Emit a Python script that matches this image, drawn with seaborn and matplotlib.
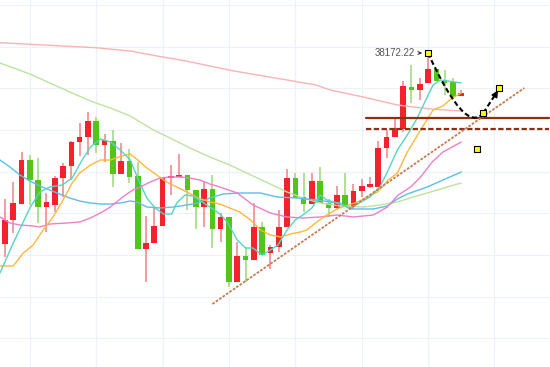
import numpy as np
import pandas as pd
import matplotlib
matplotlib.use("Agg")
import matplotlib.pyplot as plt
import seaborn as sns
from matplotlib.path import Path
from matplotlib.patches import PathPatch

# ---------------- data ----------------
open_ = [36262, 36502, 36662, 37102, 36902, 36632, 36652, 36922, 37042, 37282,
         37332, 37492, 37252, 37292, 36962, 37092, 36942, 36212, 36272, 36442,
         36922, 36932, 36952, 36802, 36632, 36812, 36412, 36532, 35882, 36142,
         36102, 36432, 36172, 36232, 36432, 36922, 36732, 36662, 36892, 36672,
         36622, 36752, 36642, 36792, 36832, 36832, 37222, 37332, 37412, 37832,
         37802, 37872, 38012, 37902, 37882, 37742]
high = [36712, 36882, 37182, 37152, 37122, 36772, 36942, 37072, 37292, 37472,
        37582, 37532, 37362, 37402, 37272, 37212, 37082, 36542, 36642, 36922,
        37052, 37162, 36952, 36802, 36882, 36952, 36572, 36532, 36282, 36232,
        36672, 36482, 36252, 36602, 37012, 36972, 36972, 36972, 37032, 36712,
        36842, 36972, 36862, 36912, 36932, 37292, 37402, 37522, 37892, 38052,
        37922, 38172, 38012, 38002, 37922, 37802]
low = [36132, 36372, 36662, 36652, 36472, 36382, 36582, 36732, 36902, 37142,
       37152, 37172, 37082, 36832, 36962, 36872, 36212, 35882, 36272, 36442,
       36752, 36932, 36602, 36412, 36432, 36222, 36282, 35832, 35882, 35882,
       36102, 36152, 36012, 36182, 36432, 36722, 36582, 36662, 36672, 36532,
       36602, 36642, 36612, 36732, 36822, 36832, 37122, 37332, 37382, 37672,
       37702, 37872, 37902, 37752, 37732, 37742]
close = [36502, 36672, 37102, 36902, 36632, 36682, 36922, 37042, 37282, 37332,
         37492, 37252, 37302, 36962, 37092, 36932, 36212, 36272, 36442, 36922,
         36942, 36952, 36802, 36632, 36812, 36412, 36532, 35882, 36142, 36102,
         36432, 36152, 36232, 36432, 36922, 36722, 36662, 36892, 36672, 36622,
         36752, 36642, 36792, 36842, 36862, 37222, 37332, 37422, 37842, 37802,
         37862, 38012, 37892, 37872, 37732, 37772]

ma5_x = [-0.6, 1, 3, 4.2, 5.4, 6.9, 8.1, 9.3, 10.3, 11.5, 12.7, 13.9, 15.1, 16, 17.1,
         18.1, 19.1, 20.1, 20.7, 21.7, 22.7, 23.8, 24.7, 25.9, 26.8, 28, 29, 29.9,
         31, 32, 32.9, 34, 35, 35.9, 37, 38, 38.8, 40, 41.6, 44, 45.2, 46.2, 47.3,
         48.5, 49.7, 50.9, 51.6, 52.5, 53.4, 55]
ma5_y = [35972, 36272, 36622, 36782, 36832, 36852, 36922, 37102, 37232, 37312, 37282,
         37202, 37102, 36922, 36722, 36622, 36562, 36562, 36672, 36752, 36742, 36682,
         36632, 36562, 36482, 36302, 36222, 36222, 36152, 36202, 36252, 36402, 36502,
         36552, 36622, 36752, 36702, 36672, 36622, 36732, 36832, 37002, 37202, 37352,
         37522, 37732, 37852, 37902, 37892, 37872]

ma10_x = [-0.6, 1, 2.2, 3.4, 4.6, 5.8, 7, 8.1, 9, 10.3, 11.5, 12.7, 14.1, 15.1, 16,
          17.1, 18.3, 19.5, 20.7, 21.95, 23.3, 24.7, 25.9, 27.1, 28.3, 29.6, 30.8, 32,
          33.2, 34.4, 35.6, 36.4, 37.6, 38.8, 40, 42.5, 44.9, 46.2, 47.3, 48.5, 50.1,
          51.6, 52.8, 53.9, 55]
ma10_y = [36042, 36042, 36172, 36252, 36402, 36532, 36702, 36872, 36972, 37052, 37102,
          37102, 37142, 37162, 37102, 37022, 36952, 36882, 36832, 36782, 36722, 36682,
          36662, 36622, 36582, 36502, 36402, 36352, 36332, 36362, 36382, 36402, 36482,
          36552, 36612, 36682, 36782, 36902, 36972, 37182, 37402, 37602, 37642, 37722,
          37772]

ma20_x = [-0.6, 0.6, 1.8, 3.4, 4.2, 5.4, 7.5, 9, 10.3, 11.5, 12.7, 14.2, 15.4, 16.3,
          17.5, 18.7, 19.9, 21.1, 22.3, 23.5, 24.7, 25.9, 28, 29.9, 32, 34, 35.9, 38,
          40, 42, 44.4, 46.1, 47.4, 48.9, 50.1, 51.5, 52.8, 55]
ma20_y = [36532, 36472, 36452, 36442, 36432, 36462, 36472, 36482, 36522, 36572, 36632,
          36732, 36802, 36832, 36882, 36922, 36932, 36932, 36922, 36902, 36862, 36832,
          36772, 36652, 36572, 36532, 36522, 36532, 36552, 36532, 36552, 36632, 36752,
          36832, 36932, 37082, 37182, 37282]

ma30_x = [-0.6, 0.6, 1.8, 3, 4.2, 5.4, 6.6, 7.8, 9, 10.3, 11.5, 12.7, 13.9, 15.1, 15.9,
          17.1, 18.7, 20.3, 21.95, 23.2, 24.7, 26.3, 28.3, 30.8, 32.8, 35.2, 37.6, 39.2,
          40.4, 41.6, 44.4, 46.1, 47.3, 48.5, 50.9, 52.8, 55]
ma30_y = [37102, 37032, 36952, 36892, 36842, 36802, 36762, 36722, 36692, 36672, 36662,
          36662, 36672, 36692, 36682, 36632, 36622, 36632, 36652, 36672, 36722, 36762,
          36772, 36772, 36732, 36722, 36702, 36682, 36672, 36612, 36612, 36642, 36712,
          36762, 36832, 36902, 36982]

ma60_x = [-0.6, 3, 6.2, 10.3, 12.7, 15.1, 17.9, 19.9, 22.3, 24.7, 27.1, 29.9, 34, 35.9,
          38, 40.4, 43.2, 45.2, 47.3, 49.2, 51.3, 53.3, 55]
ma60_y = [38072, 37962, 37842, 37692, 37622, 37542, 37402, 37322, 37222, 37132, 37052,
          36942, 36782, 36722, 36672, 36642, 36632, 36652, 36682, 36732, 36782, 36832,
          36872]

ma120_x = [-0.6, 10.9, 15.1, 18.8, 21.4, 27.4, 33.3, 37.5, 39.2, 43.2, 47.3, 51.3, 55]
ma120_y = [38275, 38225, 38192, 38135, 38099, 37995, 37912, 37852, 37802, 37732, 37652,
           37612, 37592]

peak_label = "38172.22"
peak_value = 38172
resistance = 37522
support = 37412
trend_x = [25, 62.6]
trend_y = [35662, 37822]
marker_x = [51, 57.66, 59.6, 56.94]
marker_y = [38172, 37572, 37822, 37212]

# ---------------- figure ----------------
sns.set_theme(style="white")
plt.rcParams['font.family'] = ['Liberation Sans', 'DejaVu Sans']

fig = plt.figure(figsize=(5.5, 3.67), dpi=100)
ax = fig.add_axes([0, 0, 1, 1])

UP = "#f5222d"; UP_W = "#f47f88"
DN = "#52c41a"; DN_W = "#98d977"

o = np.array(open_); h = np.array(high); l = np.array(low); c = np.array(close)
x = np.arange(len(o))
up = c >= o
ax.vlines(x, l, h, colors=np.where(up, UP_W, DN_W), lw=1.1, zorder=2)
bottoms = np.minimum(o, c)
heights = np.maximum(np.abs(c - o), 12)
ax.bar(x, heights, bottom=bottoms, width=0.68, color=np.where(up, UP, DN),
       linewidth=0, zorder=3)

lines = [
    (ma120_x, ma120_y, "#f7b4b4"),
    (ma60_x, ma60_y, "#bde3a0"),
    (ma30_x, ma30_y, "#5bbfea"),
    (ma20_x, ma20_y, "#ee80c8"),
    (ma10_x, ma10_y, "#ffb83f"),
    (ma5_x, ma5_y, "#56d4c4"),
]
for lx, ly, col in lines:
    sns.lineplot(x=lx, y=ly, color=col, lw=1.0, ax=ax, estimator=None,
                 sort=False, legend=False, zorder=4)

# support / resistance lines
ax.plot([43.5, 65.6], [resistance, resistance], color="#8e2f10", lw=1.6, zorder=5)
ax.plot([43.5, 65.6], [support, support], color="#8e2f10", lw=1.6,
        ls=(0, (2.4, 1.1)), zorder=5)
# trend line
ax.plot(trend_x, trend_y, color="#c47c52", lw=1.3, ls=(0, (1.5, 0.8)), zorder=5)

# dashed projection curve
p0 = (marker_x[0], marker_y[0]); p2 = (marker_x[1], marker_y[1])
p1 = (55.5, 37350)
path = Path([p0, p1, p2], [Path.MOVETO, Path.CURVE3, Path.CURVE3])
ax.add_patch(PathPatch(path, fill=False, edgecolor="black", lw=1.5,
                       ls=(0, (2.4, 1.4)), zorder=6))
ax.plot([marker_x[1], 59.25], [marker_y[1], 37775], color="black", lw=1.5,
        ls=(0, (2.4, 1.4)), zorder=6)
ax.annotate("", xy=(marker_x[2], marker_y[2]), xytext=(59.1, 37752),
            arrowprops=dict(arrowstyle="-|>", color="black", lw=1.2,
                            mutation_scale=9), zorder=6)

# peak label
ax.text(49.45, peak_value, peak_label, ha="right", va="center", fontsize=7,
        color="#555555", zorder=7)
ax.annotate("", xy=(50.6, peak_value), xytext=(49.7, peak_value),
            arrowprops=dict(arrowstyle="->", color="#333333", lw=0.8,
                            mutation_scale=5), zorder=7)

ax.scatter(marker_x, marker_y, marker="s", s=20, facecolor="#ffff00",
           edgecolor="black", linewidth=0.8, zorder=10)

# axes / grid
ax.set_xlim(-0.6, 65.7)
ax.set_ylim(35032, 38702)
ax.set_xticks(np.arange(3, 66, 8))
ax.set_yticks(np.arange(35318, 38700, 416.7))
ax.grid(True, color="#eef1f7", lw=0.9)
ax.set_axisbelow(True)
ax.tick_params(length=0, labelbottom=False, labelleft=False)
for s in ax.spines.values():
    s.set_visible(False)
ax.set_xlabel(""); ax.set_ylabel("")

fig.savefig("out.png", dpi=100)
